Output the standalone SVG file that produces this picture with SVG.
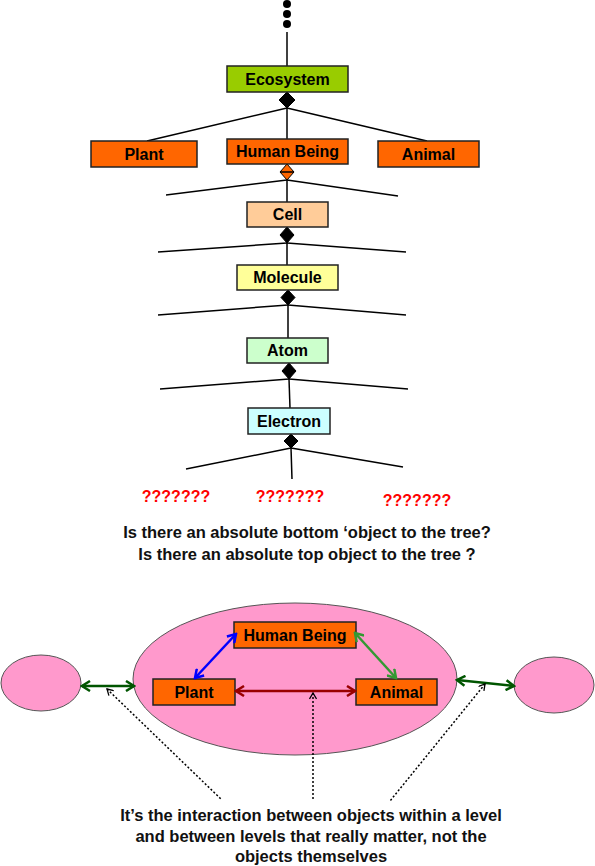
<svg xmlns="http://www.w3.org/2000/svg" width="595" height="866" viewBox="0 0 595 866">
<style>
.box{stroke:#222;stroke-width:1.5}
.lbl{font-family:"Liberation Sans",Arial,sans-serif;font-weight:bold;font-size:16px;fill:#000;text-anchor:middle}
.ln{stroke:#000;stroke-width:1.5;fill:none}
.dia{fill:#000;stroke:#000;stroke-width:1}
.q{font-family:"Liberation Sans",Arial,sans-serif;font-weight:bold;font-size:16px;fill:#FF0000;text-anchor:middle}
.txt{font-family:"Liberation Sans",Arial,sans-serif;font-weight:bold;font-size:16.5px;fill:#111;text-anchor:middle}
.pink{fill:#FF99CC;stroke:#555;stroke-width:1}
.dot{stroke:#000;stroke-width:1.5;fill:none;stroke-dasharray:2 2}
</style>
<defs>
<marker id="aBlue" viewBox="0 0 12 12" markerWidth="12" markerHeight="12" refX="10" refY="6" orient="auto-start-reverse" markerUnits="userSpaceOnUse"><path d="M2,1 L10,6 L2,11" fill="none" stroke="#0000FF" stroke-width="2.5"/></marker>
<marker id="aGreen" viewBox="0 0 12 12" markerWidth="12" markerHeight="12" refX="10" refY="6" orient="auto-start-reverse" markerUnits="userSpaceOnUse"><path d="M2,1 L10,6 L2,11" fill="none" stroke="#339933" stroke-width="2.5"/></marker>
<marker id="aRed" viewBox="0 0 12 12" markerWidth="12" markerHeight="12" refX="10" refY="6" orient="auto-start-reverse" markerUnits="userSpaceOnUse"><path d="M2,1 L10,6 L2,11" fill="none" stroke="#990000" stroke-width="2.5"/></marker>
<marker id="aDk" viewBox="0 0 12 12" markerWidth="12" markerHeight="12" refX="10" refY="6" orient="auto-start-reverse" markerUnits="userSpaceOnUse"><path d="M2,1 L10,6 L2,11" fill="none" stroke="#005500" stroke-width="2.5"/></marker>
<marker id="aDot" viewBox="0 0 8 8" markerWidth="8" markerHeight="8" refX="7" refY="4" orient="auto-start-reverse" markerUnits="userSpaceOnUse"><path d="M1,0.5 L7,4 L1,7.5" fill="none" stroke="#000" stroke-width="1.3"/></marker>
</defs>

<g id="top-dots">
<circle cx="287" cy="4" r="4" fill="#000"/>
<circle cx="287" cy="14" r="4" fill="#000"/>
<circle cx="287" cy="24" r="4" fill="#000"/>
</g>

<g id="connectors">
<line class="ln" x1="287" y1="32" x2="287" y2="66"/>
<polygon class="dia" points="287,92 295,100 287,108 279,100"/>
<line class="ln" x1="287" y1="108" x2="147" y2="141"/>
<line class="ln" x1="287" y1="108" x2="427" y2="141"/>
<line class="ln" x1="287" y1="108" x2="287" y2="139"/>
<polygon points="287,164 294,172 287,180 280,172" fill="#FF6600" stroke="#000" stroke-width="1"/>
<line x1="280" y1="172" x2="294" y2="172" stroke="#000" stroke-width="1.5"/>
<line class="ln" x1="287" y1="180" x2="166" y2="195"/>
<line class="ln" x1="287" y1="180" x2="398" y2="196"/>
<line class="ln" x1="287" y1="180" x2="287" y2="202"/>
<polygon class="dia" points="287,227 294,235 287,243 280,235"/>
<line class="ln" x1="287" y1="243" x2="158" y2="252"/>
<line class="ln" x1="287" y1="243" x2="406" y2="252"/>
<line class="ln" x1="287" y1="243" x2="287" y2="265"/>
<polygon class="dia" points="288,290 295,297.5 288,305 281,297.5"/>
<line class="ln" x1="288" y1="305" x2="158" y2="315"/>
<line class="ln" x1="288" y1="305" x2="406" y2="315"/>
<line class="ln" x1="288" y1="305" x2="288" y2="338"/>
<polygon class="dia" points="289,363 296,371 289,379 282,371"/>
<line class="ln" x1="289" y1="379" x2="160" y2="389"/>
<line class="ln" x1="289" y1="379" x2="408" y2="389"/>
<line class="ln" x1="289" y1="379" x2="290" y2="408"/>
<polygon class="dia" points="291,434 298,441 291,448 284,441"/>
<line class="ln" x1="291" y1="448" x2="186" y2="469"/>
<line class="ln" x1="291" y1="448" x2="403" y2="467"/>
<line class="ln" x1="291" y1="448" x2="292" y2="479"/>
</g>

<g id="ecosystem"><rect class="box" x="227" y="66" width="121" height="26" fill="#99CC00"/><text class="lbl" x="287.5" y="85">Ecosystem</text></g>
<g id="plant"><rect class="box" x="91" y="141" width="106" height="26" fill="#FF6600"/><text class="lbl" x="144" y="160">Plant</text></g>
<g id="human-being"><rect class="box" x="227" y="139" width="121" height="25" fill="#FF6600"/><text class="lbl" x="287.5" y="157">Human Being</text></g>
<g id="animal"><rect class="box" x="378" y="141" width="101" height="26" fill="#FF6600"/><text class="lbl" x="428.5" y="160">Animal</text></g>
<g id="cell"><rect class="box" x="247" y="202" width="81" height="25" fill="#FFCC99"/><text class="lbl" x="287.5" y="220">Cell</text></g>
<g id="molecule"><rect class="box" x="237" y="265" width="101" height="25" fill="#FFFF99"/><text class="lbl" x="287.5" y="283">Molecule</text></g>
<g id="atom"><rect class="box" x="247" y="338" width="81" height="25" fill="#CCFFCC"/><text class="lbl" x="287.5" y="356">Atom</text></g>
<g id="electron"><rect class="box" x="248" y="408" width="82" height="26" fill="#CCFFFF"/><text class="lbl" x="289" y="427">Electron</text></g>

<g id="unknowns">
<text class="q" x="176" y="502">???????</text>
<text class="q" x="290" y="502">???????</text>
<text class="q" x="417" y="506">???????</text>
</g>

<g id="question">
<text class="txt" x="307" y="538">Is there an absolute bottom ‘object to the tree?</text>
<text class="txt" x="307" y="560">Is there an absolute top object to the tree ?</text>
</g>

<g id="left-level"><ellipse class="pink" cx="41" cy="683" rx="40" ry="28"/></g>
<g id="level"><ellipse class="pink" cx="295" cy="679" rx="162" ry="76"/></g>
<g id="right-level"><ellipse class="pink" cx="554" cy="685" rx="40" ry="28"/></g>

<g id="hb2"><rect class="box" x="234" y="622" width="122" height="26" fill="#FF6600"/><text class="lbl" x="295" y="641">Human Being</text></g>
<g id="plant2"><rect class="box" x="153" y="679" width="82" height="26" fill="#FF6600"/><text class="lbl" x="194" y="698">Plant</text></g>
<g id="animal2"><rect class="box" x="356" y="679" width="81" height="26" fill="#FF6600"/><text class="lbl" x="396.5" y="698">Animal</text></g>

<g id="interactions">
<line x1="195" y1="678" x2="236" y2="634" stroke="#0000FF" stroke-width="2.5" marker-start="url(#aBlue)" marker-end="url(#aBlue)"/>
<line x1="355" y1="633" x2="396" y2="678" stroke="#339933" stroke-width="2.5" marker-start="url(#aGreen)" marker-end="url(#aGreen)"/>
<line x1="236" y1="691" x2="355" y2="691" stroke="#990000" stroke-width="2.5" marker-start="url(#aRed)" marker-end="url(#aRed)"/>
<line x1="82" y1="686" x2="134" y2="686" stroke="#005500" stroke-width="2.5" marker-start="url(#aDk)" marker-end="url(#aDk)"/>
<line x1="457" y1="680" x2="514" y2="686" stroke="#005500" stroke-width="2.5" marker-start="url(#aDk)" marker-end="url(#aDk)"/>
<line class="dot" x1="107" y1="689" x2="222" y2="800" marker-start="url(#aDot)"/>
<line class="dot" x1="313" y1="693" x2="313" y2="800" marker-start="url(#aDot)"/>
<line class="dot" x1="485" y1="684" x2="390" y2="801" marker-start="url(#aDot)"/>
</g>

<g id="note">
<text class="txt" x="311" y="821">It’s the interaction between objects within a level</text>
<text class="txt" x="311" y="842">and between levels that really matter, not the</text>
<text class="txt" x="311" y="862">objects themselves</text>
</g>
</svg>
